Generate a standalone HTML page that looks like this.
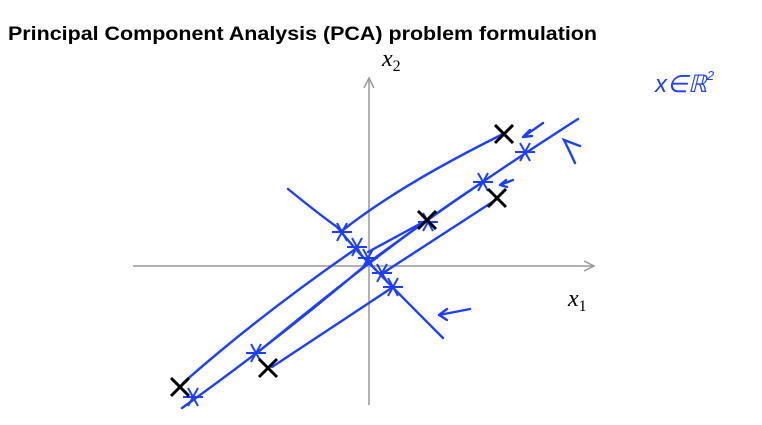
<!DOCTYPE html>
<html><head><meta charset="utf-8"><style>
html,body{margin:0;padding:0;background:#fff;width:762px;height:425px;overflow:hidden}
svg{display:block}
</style></head><body>
<svg id="chart" width="762" height="425" viewBox="0 0 762 425" xmlns="http://www.w3.org/2000/svg">
<text x="8" y="40" font-family="Liberation Sans, sans-serif" font-weight="bold" font-size="19" textLength="589" lengthAdjust="spacingAndGlyphs">Principal Component Analysis (PCA) problem formulation</text>
<g stroke="#999" stroke-width="1.5" fill="none">
<line x1="133" y1="266" x2="594" y2="266"/>
<path d="M584 261 L594 266 L584 271"/>
<line x1="369" y1="405" x2="369" y2="78"/>
<path d="M364 88 L369 78 L374 88"/>
</g>
<text x="382" y="66" font-family="Liberation Serif, serif" font-style="italic" font-size="24">x<tspan font-style="normal" font-size="16" dy="5">2</tspan></text>
<text x="568" y="306" font-family="Liberation Serif, serif" font-style="italic" font-size="24">x<tspan font-style="normal" font-size="16" dy="5">1</tspan></text>
<text x="655" y="92" fill="#1f3fff" font-family="Liberation Sans, sans-serif" font-style="italic" font-size="24">x∈ℝ<tspan font-size="13" dy="-12">2</tspan></text>
<g stroke="#1f3fff" stroke-width="2.4" fill="none" stroke-linecap="round">
<path d="M182 408 Q280 338 368 263 Q470 188 578 119"/>
<path d="M288 189 Q320 215 337 227 Q360 255 372 266 Q400 295 443 338"/>
<path d="M183 383 Q260 315 357 248"/>
<path d="M343 230 Q400 185 503 134"/>
<path d="M427 220 L368 252"/>
<path d="M483 182 Q400 235 257 353"/>
<path d="M497 199 L383 273"/>
<path d="M393 287 L272 367"/>
<path d="M543 123 L523 137 M523 137 L530 130 M523 137 L532 136"/>
<path d="M513 180 L500 185 M500 185 L506 180 M500 185 L507 187"/>
<path d="M470 309 Q455 312 439 315 M439 315 L447 309 M439 315 L447 320"/>
<path d="M580 146 Q572 143 564 140 Q570 152 575 163"/>
</g>
<g id="marks"></g>
</svg>
<script>
const pointsX=[-3.78,-2.02,1.16,2.56,2.7];
const pointsY=[-2.42,-2.04,0.92,1.36,2.64];
const starsX=[-3.52,-2.26,1.18,2.28,3.12,-0.54,-0.24,-0.02,0.26,0.48];
const starsY=[-2.62,-1.74,0.88,1.68,2.28,0.68,0.38,0.16,-0.14,-0.42];
const sx=v=>369+v*50, sy=v=>266-v*50;
const g=document.getElementById('marks');
const NS='http://www.w3.org/2000/svg';
function line(x1,y1,x2,y2,c,w){const l=document.createElementNS(NS,'line');l.setAttribute('x1',x1);l.setAttribute('y1',y1);l.setAttribute('x2',x2);l.setAttribute('y2',y2);l.setAttribute('stroke',c);l.setAttribute('stroke-width',w);return l;}
starsX.forEach((v,i)=>{
 const x=sx(v),y=sy(starsY[i]);
 const s=document.createElementNS(NS,'g');
 
 
 s.appendChild(line(x-10,y,x+10,y,'#1f3fff',2));
 s.appendChild(line(x-5,y-9,x+5,y+9,'#1f3fff',2));
 s.appendChild(line(x+5,y-9,x-5,y+9,'#1f3fff',2));
 g.appendChild(s);
});
pointsX.forEach((v,i)=>{
 const x=sx(v),y=sy(pointsY[i]);
 const s=document.createElementNS(NS,'g');
 
 
 s.appendChild(line(x-9,y-9,x+9,y+9,'#000',3));
 s.appendChild(line(x+9,y-9,x-9,y+9,'#000',3));
 g.appendChild(s);
});
</script>
</body></html>
